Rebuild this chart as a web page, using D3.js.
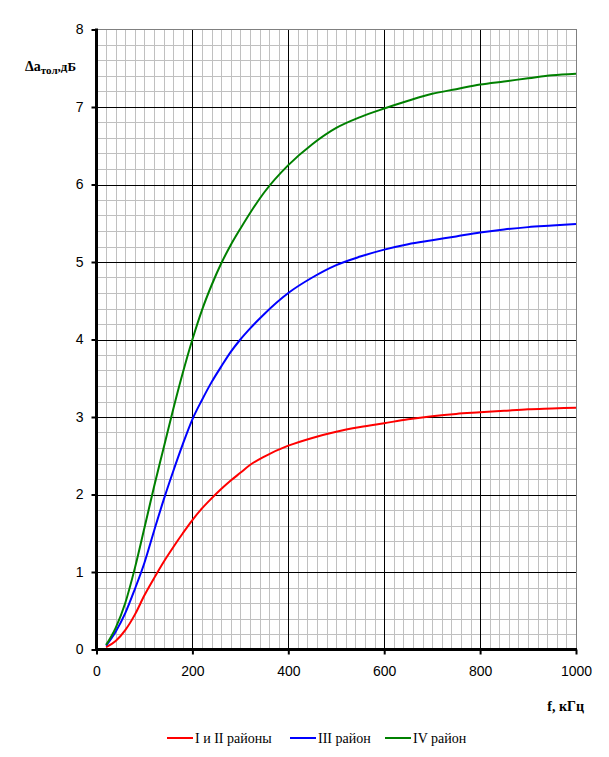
<!DOCTYPE html>
<html>
<head>
<meta charset="utf-8">
<script src="https://cdn.jsdelivr.net/npm/d3@7"></script>
<style>
body { margin: 0; background: #fff; }
svg { display: block; }
.tick text { font-family: "Liberation Sans", Arial, sans-serif; font-size: 14px; }
</style>
</head>
<body>
<svg width="609" height="757"></svg>
<script>
var freq = [20, 40, 60, 80, 100, 120, 140, 160, 180, 200, 220, 240, 260, 280, 300, 320, 350,
            400, 450, 500, 550, 600, 650, 700, 750, 800, 850, 900, 950, 1000];

var region12 = [0.03, 0.11, 0.25, 0.45, 0.70, 0.92, 1.13, 1.32, 1.50, 1.67, 1.82, 1.95, 2.07, 2.18, 2.28, 2.38, 2.49,
                2.63, 2.73, 2.81, 2.87, 2.92, 2.97, 3.01, 3.04, 3.06, 3.08, 3.10, 3.11, 3.12];
var region3 = [0.05, 0.23, 0.47, 0.78, 1.12, 1.53, 1.93, 2.30, 2.65, 2.97, 3.22, 3.45, 3.65, 3.84, 4.00, 4.14, 4.33,
               4.60, 4.80, 4.96, 5.07, 5.16, 5.23, 5.28, 5.33, 5.38, 5.42, 5.45, 5.47, 5.49];
var region4 = [0.06, 0.28, 0.60, 1.05, 1.57, 2.10, 2.60, 3.10, 3.57, 4.00, 4.38, 4.70, 4.98, 5.22, 5.43, 5.63, 5.90,
               6.25, 6.52, 6.73, 6.87, 6.98, 7.08, 7.17, 7.23, 7.29, 7.33, 7.37, 7.41, 7.43];

var seriesNames = ["I и II районы", "III район", "IV район"];
var seriesColors = ["#ff0000", "#0000ff", "#008000"];

var xTicks = [0, 200, 400, 600, 800, 1000];
var yTicks = [0, 1, 2, 3, 4, 5, 6, 7, 8];

var svg = d3.select("svg");

var xScale = d3.scaleLinear().domain([0, 1000]).range([96.5, 576]);
var yScale = d3.scaleLinear().domain([0, 8]).range([649.5, 29.5]);

// minor grid
var minorX = d3.range(20, 1000, 20).filter(function(v){ return v % 200 != 0; });
var minorY = d3.range(0.2, 8, 0.2).filter(function(v){ return Math.abs(v - Math.round(v)) > 0.01; });

var grid = svg.append("g").attr("shape-rendering", "crispEdges");

grid.selectAll(".mx").data(minorX).enter().append("line")
    .attr("x1", function(d){ return Math.round(xScale(d)) + 0.5; })
    .attr("x2", function(d){ return Math.round(xScale(d)) + 0.5; })
    .attr("y1", yScale(8)).attr("y2", yScale(0))
    .attr("stroke", "#c0c0c0");

grid.selectAll(".my").data(minorY).enter().append("line")
    .attr("y1", function(d){ return Math.round(yScale(d)) + 0.5; })
    .attr("y2", function(d){ return Math.round(yScale(d)) + 0.5; })
    .attr("x1", xScale(0)).attr("x2", xScale(1000))
    .attr("stroke", "#c0c0c0");

// outer border (top, right)
grid.append("rect")
    .attr("x", xScale(0)).attr("y", yScale(8))
    .attr("width", xScale(1000) - xScale(0)).attr("height", yScale(0) - yScale(8))
    .attr("fill", "none").attr("stroke", "#808080");

// major grid
grid.selectAll(".Mx").data(xTicks.slice(1, -1)).enter().append("line")
    .attr("x1", function(d){ return Math.round(xScale(d)) + 0.5; })
    .attr("x2", function(d){ return Math.round(xScale(d)) + 0.5; })
    .attr("y1", yScale(8)).attr("y2", yScale(0))
    .attr("stroke", "#000");

grid.selectAll(".My").data(yTicks.slice(1, -1)).enter().append("line")
    .attr("y1", function(d){ return Math.round(yScale(d)) + 0.5; })
    .attr("y2", function(d){ return Math.round(yScale(d)) + 0.5; })
    .attr("x1", xScale(0)).attr("x2", xScale(1000))
    .attr("stroke", "#000");

// curves
var allSeries = [region12, region3, region4];
var line = d3.line()
    .x(function(d, i){ return xScale(freq[i]); })
    .y(function(d){ return yScale(d); })
    .curve(d3.curveMonotoneX);

svg.selectAll(".curve").data(allSeries).enter().append("path")
    .attr("class", "curve")
    .attr("d", line)
    .attr("fill", "none")
    .attr("stroke", function(d, i){ return seriesColors[i]; })
    .attr("stroke-width", 2);

// axes
var xAxis = d3.axisBottom(xScale).tickValues(xTicks).tickFormat(d3.format("d")).tickSize(5).tickPadding(12);
var yAxis = d3.axisLeft(yScale).tickValues(yTicks).tickFormat(d3.format("d")).tickSize(5).tickPadding(8);

var gx = svg.append("g").attr("transform", "translate(0," + yScale(0) + ")").call(xAxis);
var gy = svg.append("g").attr("transform", "translate(" + xScale(0) + ",0)").call(yAxis);

gx.select(".domain").attr("d", "M" + (xScale(0) - 1) + ",0H" + (xScale(1000) + 1)).attr("stroke-width", 3);
gy.select(".domain").attr("d", "M0," + (yScale(0) + 1) + "V" + (yScale(8) - 1)).attr("stroke-width", 3);
svg.selectAll(".tick line").attr("stroke-width", 2);
svg.selectAll(".tick text").attr("fill", "#000");

// axis titles
var yTitle = svg.append("text")
    .attr("x", 25).attr("y", 71)
    .attr("font-family", "Liberation Serif, Times New Roman, serif")
    .attr("font-weight", "bold").attr("font-size", 14);
yTitle.append("tspan").text("Δa");
yTitle.append("tspan").attr("font-size", 11).attr("dy", 3).text("тол");
yTitle.append("tspan").attr("font-size", 13).attr("dy", -3).text(",дБ");

svg.append("text")
    .attr("x", 584).attr("y", 711)
    .attr("text-anchor", "end")
    .attr("font-family", "Liberation Serif, Times New Roman, serif")
    .attr("font-weight", "bold").attr("font-size", 14)
    .text("f, кГц");

// legend
var legendX = [167, 290, 385];
var legend = svg.selectAll(".legend").data(seriesNames).enter().append("g")
    .attr("transform", function(d, i){ return "translate(" + legendX[i] + ",738)"; });

legend.append("line")
    .attr("x1", 0).attr("x2", 26)
    .attr("stroke", function(d, i){ return seriesColors[i]; })
    .attr("stroke-width", 2);

legend.append("text")
    .attr("x", 28).attr("y", 5)
    .attr("font-family", "Liberation Serif, Times New Roman, serif")
    .attr("font-size", 14)
    .text(function(d){ return d; });
</script>
</body>
</html>
